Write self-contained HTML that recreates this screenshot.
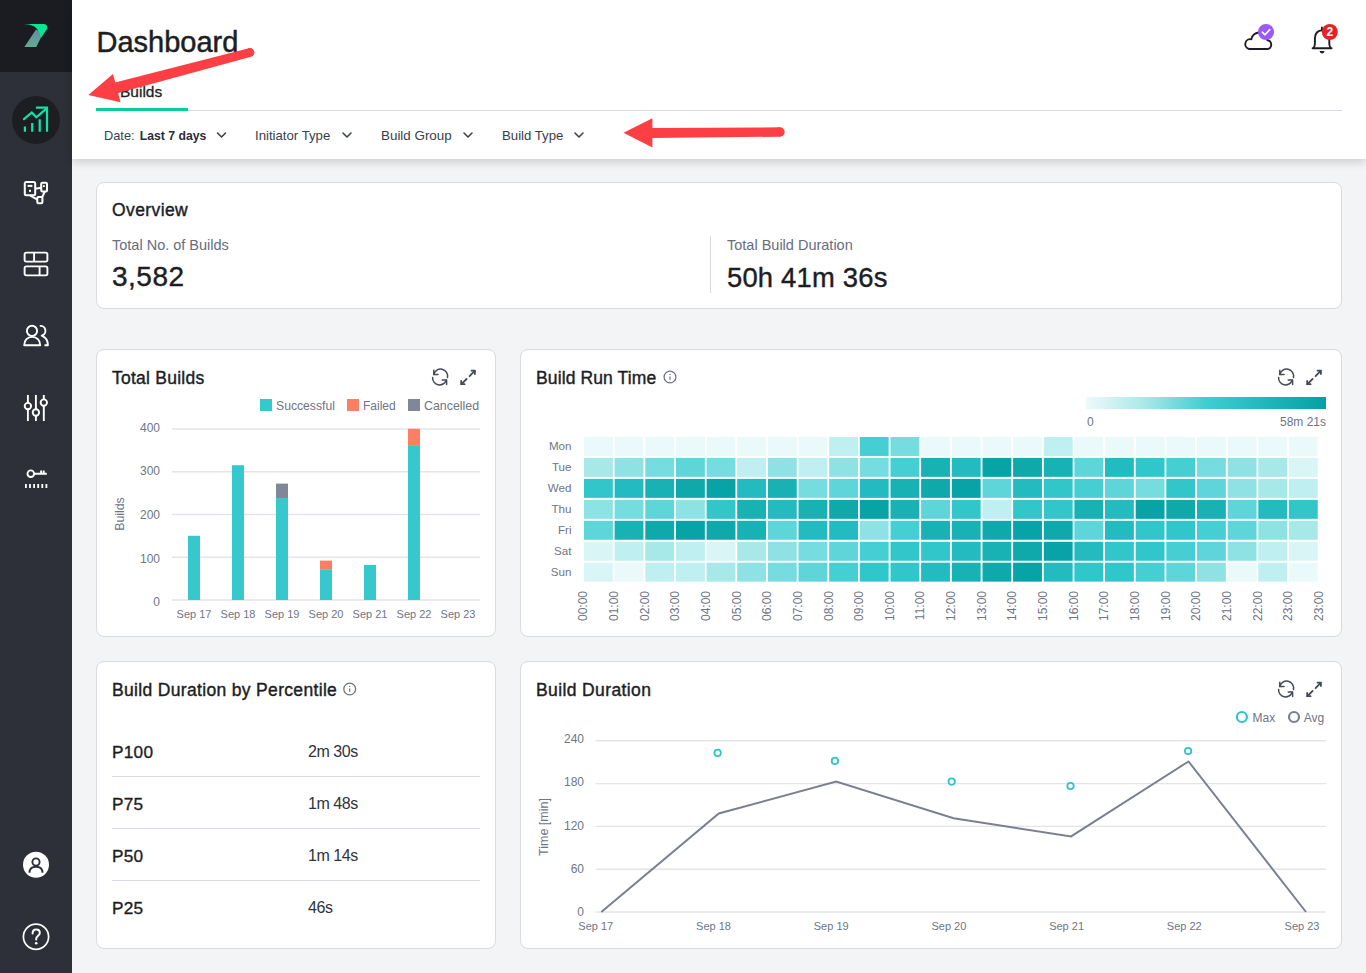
<!DOCTYPE html>
<html><head><meta charset="utf-8">
<style>
*{margin:0;padding:0;box-sizing:border-box}
html,body{width:1366px;height:973px;overflow:hidden;background:#f3f4f6;font-family:"Liberation Sans",sans-serif;color:#1c1e24}
.abs{position:absolute;white-space:nowrap}
#side{position:absolute;left:0;top:0;width:72px;height:973px;background:#2e3039}
#logo{position:absolute;left:0;top:0;width:72px;height:72px;background:#1b1c21}
#hdr{position:absolute;left:72px;top:0;width:1294px;height:159px;background:#fff;box-shadow:0 3px 9px rgba(0,0,0,0.17)}
.card{position:absolute;background:#fff;border:1px solid #d9dbe1;border-radius:8px}
.ttl{font-size:17.5px;color:#1c1e24;-webkit-text-stroke:0.4px #1c1e24}
svg text.ax{font-family:"Liberation Sans",sans-serif;font-size:11px;fill:#6f7585}
</style></head><body>
<div id="side">
 <div id="logo"></div>
</div>
<div id="hdr"></div>
<div class="abs" style="left:96.5px;top:24.5px;font-size:29px;line-height:34px;color:#1c1e24;-webkit-text-stroke:0.5px #1c1e24">Dashboard</div>
<div class="abs" style="left:120px;top:82.5px;font-size:15.5px;line-height:18px;color:#1c1e24;-webkit-text-stroke:0.3px #1c1e24">Builds</div>
<div class="abs" style="left:96px;top:110px;width:1246px;height:1px;background:#d9dbe2"></div>
<div class="abs" style="left:96px;top:108px;width:92px;height:3px;background:#05d09b"></div>
<div class="abs" style="left:104px;top:128px;font-size:12.8px;line-height:16px;color:#3a3e4a">Date: <b style="color:#2a2d36;font-size:12.2px;margin-left:1.7px">Last 7 days</b></div>
<div class="abs" style="left:255px;top:128px;font-size:13.2px;line-height:16px;color:#3a3e4a">Initiator Type</div>
<div class="abs" style="left:381px;top:128px;font-size:13.4px;line-height:16px;color:#3a3e4a">Build Group</div>
<div class="abs" style="left:502px;top:128px;font-size:13.2px;line-height:16px;color:#3a3e4a">Build Type</div>

<div class="card" style="left:96px;top:182px;width:1246px;height:127px"></div>
<div class="abs ttl" style="left:112px;top:200px;line-height:20px;letter-spacing:0.4px">Overview</div>
<div class="abs" style="left:112px;top:236px;font-size:14.5px;line-height:18px;color:#676d7e">Total No. of Builds</div>
<div class="abs" style="left:112px;top:262px;font-size:28px;line-height:30px;letter-spacing:0.5px;color:#1c1e24;-webkit-text-stroke:0.4px #1c1e24">3,582</div>
<div class="abs" style="left:710px;top:236px;width:1px;height:57px;background:#d9dbe2"></div>
<div class="abs" style="left:727px;top:236px;font-size:14.5px;line-height:18px;color:#676d7e">Total Build Duration</div>
<div class="abs" style="left:727px;top:263px;letter-spacing:0.2px;font-size:27.4px;line-height:30px;color:#1c1e24;-webkit-text-stroke:0.4px #1c1e24">50h 41m 36s</div>

<div class="card" style="left:96px;top:349px;width:400px;height:288px"></div>
<div class="abs ttl" style="left:112px;top:367.5px;line-height:20px;letter-spacing:0.25px">Total Builds</div>
<div class="card" style="left:520px;top:349px;width:822px;height:288px"></div>
<div class="abs ttl" style="left:536px;top:367.5px;line-height:20px;letter-spacing:0.12px">Build Run Time</div>
<div class="card" style="left:96px;top:661px;width:400px;height:288px"></div>
<div class="abs ttl" style="left:112px;top:679.5px;line-height:20px;letter-spacing:0.33px">Build Duration by Percentile</div>
<div class="card" style="left:520px;top:661px;width:822px;height:288px"></div>
<div class="abs ttl" style="left:536px;top:679.5px;line-height:20px;letter-spacing:0.38px">Build Duration</div>

<div class="abs" style="left:112px;top:742px;font-size:17.2px;line-height:20px;letter-spacing:0.3px;-webkit-text-stroke:0.35px #1c1e24">P100</div>
<div class="abs" style="left:308px;top:743px;font-size:16px;letter-spacing:-0.45px;line-height:17px;color:#30333c">2m 30s</div>
<div class="abs" style="left:112px;top:776px;width:368px;height:1px;background:#d9dbe2"></div>
<div class="abs" style="left:112px;top:794px;font-size:17.2px;line-height:20px;letter-spacing:0.3px;-webkit-text-stroke:0.35px #1c1e24">P75</div>
<div class="abs" style="left:308px;top:795px;font-size:16px;letter-spacing:-0.45px;line-height:17px;color:#30333c">1m 48s</div>
<div class="abs" style="left:112px;top:828px;width:368px;height:1px;background:#d9dbe2"></div>
<div class="abs" style="left:112px;top:846px;font-size:17.2px;line-height:20px;letter-spacing:0.3px;-webkit-text-stroke:0.35px #1c1e24">P50</div>
<div class="abs" style="left:308px;top:847px;font-size:16px;letter-spacing:-0.45px;line-height:17px;color:#30333c">1m 14s</div>
<div class="abs" style="left:112px;top:880px;width:368px;height:1px;background:#d9dbe2"></div>
<div class="abs" style="left:112px;top:898px;font-size:17.2px;line-height:20px;letter-spacing:0.3px;-webkit-text-stroke:0.35px #1c1e24">P25</div>
<div class="abs" style="left:308px;top:899px;font-size:16px;letter-spacing:-0.45px;line-height:17px;color:#30333c">46s</div>

<svg class="abs" style="left:0;top:0" width="1366" height="973" viewBox="0 0 1366 973">
<!-- logo -->
<path d="M23.7 24 C31 24.5 35 26 37.5 29.5 L40.6 38.5 L47 29 C48 27 46.5 24 44 24 Z" fill="#05e895"/>
<defs><linearGradient id="lgo" x1="0" y1="0" x2="0" y2="1"><stop offset="0" stop-color="#6a8aa6"/><stop offset="1" stop-color="#5fae8e"/></linearGradient></defs><path d="M36 29.6 C39 31 41 34 40.5 38.5 L36.3 47 L24.4 47 Z" fill="url(#lgo)"/>
<!-- active -->
<circle cx="36" cy="120" r="24" fill="#1d1e22"/>
<g fill="none" stroke="#0ae6a6" stroke-width="2.2" stroke-linecap="butt" stroke-linejoin="miter">
<path d="M24.9 131.7 V126.6 M32.2 131.7 V122.9 M39.7 131.7 V119.2 M47 131.7 V107.7 H35.9"/>
<path d="M24 119.2 L31.8 112.5 L36.3 117.3 L47 108.2" stroke-linecap="round"/>
</g>
<!-- sidebar icons -->
<g fill="none" stroke="#fff" stroke-width="2.05" stroke-linejoin="round">
<rect x="24.8" y="181.9" width="10.4" height="13.4" rx="1.5"/>
<rect x="41.2" y="182.8" width="5.8" height="8.7" rx="1.3"/>
<rect x="37.3" y="197" width="5.1" height="6.3" rx="1"/>
<path d="M35.2 188.7 L41.2 187.8 M30.3 195.6 L37.5 199.6 M44.7 191.5 L42.3 197.2"/>
<path d="M27.6 185.9 H32.4"/></g><g fill="#fff"><rect x="29" y="189.8" width="2" height="2"/><rect x="43" y="185.2" width="1.8" height="1.8"/></g><g fill="none" stroke="#fff" stroke-width="1.9" stroke-linejoin="round">
<rect x="24.6" y="252.6" width="22.8" height="9" rx="1.8"/>
<rect x="24.6" y="266.4" width="22.8" height="9" rx="1.8"/>
<path d="M34.1 252.6 V261.6 M39.6 266.4 V275.4"/>
<circle cx="32" cy="330.9" r="5.1"/>
<path d="M24.2 345.3 C24.2 340.2 27.6 336.9 32.2 336.9 C36.8 336.9 40.2 340.2 40.2 345.3 Z"/>
<path d="M39.8 325.9 A4.95 4.95 0 0 1 41.7 335.6 C45.6 337.2 47.9 340.6 47.9 345.3 H44.5"/>
<path d="M27.9 395 V402.9 M27.9 409.3 V421 M35.9 395 V409.3 M35.9 415.7 V421 M43.8 395 V399.4 M43.8 405.8 V421"/>
<circle cx="27.9" cy="406.1" r="3.2"/><circle cx="35.9" cy="412.5" r="3.2"/><circle cx="43.8" cy="402.6" r="3.2"/>
<circle cx="30.8" cy="473.7" r="3.3"/>
<path d="M34.1 473.7 H46.8 M41.1 473.7 V470.4 M43.7 473.7 V470.4"/>
<path d="M25 486 H47.3" stroke-dasharray="1.8 2.3" stroke-width="3.8" stroke-linejoin="miter"/>
<circle cx="36" cy="936.8" r="12.6" stroke-width="1.7"/>
</g>
<circle cx="36" cy="864.8" r="13" fill="#fff"/>
<g fill="none" stroke="#2e3039" stroke-width="1.9"><circle cx="36" cy="862" r="3.6"/><path d="M29.5 872.8 C29.5 868.5 32 866.8 36 866.8 C40 866.8 42.5 868.5 42.5 872.8"/></g>
<path d="M32.6 933.5 C32.6 931 34.2 929.6 36.2 929.6 C38.3 929.6 39.8 931 39.8 933 C39.8 935.6 36.2 936 36.2 938.8 V939.6" fill="none" stroke="#fff" stroke-width="2" stroke-linecap="round"/><circle cx="36.2" cy="943.3" r="1.3" fill="#fff"/>
<!-- header icons -->
<path d="M1249.2 49 H1267.6 A4.4 4.4 0 0 0 1267.4 40.3 A8.1 8.1 0 0 0 1251.3 39.3 A4.9 4.9 0 0 0 1249.2 49 Z" fill="none" stroke="#1c1e24" stroke-width="1.9" stroke-linejoin="round"/>
<circle cx="1266" cy="32" r="8" fill="#9b59f7"/>
<path d="M1262.3 32.2 L1265 34.8 L1269.8 29.6" fill="none" stroke="#fff" stroke-width="1.6" stroke-linecap="round" stroke-linejoin="round"/>
<path d="M1312.6 48.2 H1331.6 M1313.6 47.6 C1314.6 46.6 1314.9 45.5 1314.9 43.5 V38 C1314.9 33.5 1317.8 30.4 1322 30.4 C1326.2 30.4 1329.3 33.5 1329.3 38 V43.5 C1329.3 45.5 1329.6 46.6 1330.6 47.6 M1321.9 27.4 V30.4" fill="none" stroke="#1c1e24" stroke-width="1.9" stroke-linejoin="round" stroke-linecap="round"/>
<path d="M1319.6 50.9 H1324.6 C1324.3 52.5 1323.3 53.4 1322.1 53.4 C1320.9 53.4 1319.9 52.5 1319.6 50.9 Z" fill="#1c1e24"/>
<circle cx="1329.8" cy="32" r="8" fill="#e52127"/>
<text x="1329.8" y="36.4" text-anchor="middle" font-family="Liberation Sans" font-size="12" font-weight="bold" fill="#fff">2</text>
<!-- filter chevrons -->
<path d="M217.5 133 L221.5 137 L225.5 133" fill="none" stroke="#3c4150" stroke-width="1.6" stroke-linecap="round" stroke-linejoin="round"/><path d="M343 133 L347 137 L351 133" fill="none" stroke="#3c4150" stroke-width="1.6" stroke-linecap="round" stroke-linejoin="round"/><path d="M464 133 L468 137 L472 133" fill="none" stroke="#3c4150" stroke-width="1.6" stroke-linecap="round" stroke-linejoin="round"/><path d="M575 133 L579 137 L583 133" fill="none" stroke="#3c4150" stroke-width="1.6" stroke-linecap="round" stroke-linejoin="round"/>
<!-- card icons -->
<g transform="translate(432,369)" fill="none" stroke="#454a58" stroke-width="1.5" stroke-linecap="round" stroke-linejoin="round">
<path d="M1.8 5.6 A7 7 0 0 1 15.5 8.6"/><path d="M1.8 1.2 V5.6 H6"/>
<path d="M0.6 8.4 A7 7 0 0 0 14.2 11.2"/><path d="M10.2 11 H14.6 V15.6"/></g><g transform="translate(460,369)" fill="none" stroke="#454a58" stroke-width="1.8" stroke-linecap="round" stroke-linejoin="round">
<path d="M11.5 1.6 H14.9 V5"/><path d="M14.6 1.9 L9.6 7.2"/><path d="M6.6 10 L1.4 15.2"/><path d="M1.2 11.8 V15.2 H4.6"/></g>
<g transform="translate(1278,369)" fill="none" stroke="#454a58" stroke-width="1.5" stroke-linecap="round" stroke-linejoin="round">
<path d="M1.8 5.6 A7 7 0 0 1 15.5 8.6"/><path d="M1.8 1.2 V5.6 H6"/>
<path d="M0.6 8.4 A7 7 0 0 0 14.2 11.2"/><path d="M10.2 11 H14.6 V15.6"/></g><g transform="translate(1306,369)" fill="none" stroke="#454a58" stroke-width="1.8" stroke-linecap="round" stroke-linejoin="round">
<path d="M11.5 1.6 H14.9 V5"/><path d="M14.6 1.9 L9.6 7.2"/><path d="M6.6 10 L1.4 15.2"/><path d="M1.2 11.8 V15.2 H4.6"/></g>
<g transform="translate(1278,681)" fill="none" stroke="#454a58" stroke-width="1.5" stroke-linecap="round" stroke-linejoin="round">
<path d="M1.8 5.6 A7 7 0 0 1 15.5 8.6"/><path d="M1.8 1.2 V5.6 H6"/>
<path d="M0.6 8.4 A7 7 0 0 0 14.2 11.2"/><path d="M10.2 11 H14.6 V15.6"/></g><g transform="translate(1306,681)" fill="none" stroke="#454a58" stroke-width="1.8" stroke-linecap="round" stroke-linejoin="round">
<path d="M11.5 1.6 H14.9 V5"/><path d="M14.6 1.9 L9.6 7.2"/><path d="M6.6 10 L1.4 15.2"/><path d="M1.2 11.8 V15.2 H4.6"/></g>
<g fill="none" stroke="#6b7182" stroke-width="1.25"><circle cx="670" cy="377" r="5.9"/></g><line x1="670" y1="376.5" x2="670" y2="379.8" stroke="#6b7080" stroke-width="1.2"/><circle cx="670" cy="374.4" r="0.7" fill="#6b7080"/><g fill="none" stroke="#6b7182" stroke-width="1.25"><circle cx="349.7" cy="689" r="5.9"/></g><line x1="349.7" y1="688.5" x2="349.7" y2="691.8" stroke="#6b7080" stroke-width="1.2"/><circle cx="349.7" cy="686.4" r="0.7" fill="#6b7080"/>
<!-- legends -->
<rect x="260" y="399" width="12" height="12" fill="#35c9cd"/><text x="276" y="409.5" class="ax" style="font-size:12.2px">Successful</text>
<rect x="347" y="399" width="12" height="12" fill="#fd7f63"/><text x="363" y="409.5" class="ax" style="font-size:12px">Failed</text>
<rect x="408" y="399" width="12" height="12" fill="#818797"/><text x="424" y="409.5" class="ax" style="font-size:12.4px">Cancelled</text>
<line x1="172" y1="600.1" x2="480" y2="600.1" stroke="#e3e4e9" stroke-width="1.5"/>
<text x="160" y="606.0" text-anchor="end" class="ax" style="font-size:12px">0</text>
<line x1="172" y1="557.3" x2="480" y2="557.3" stroke="#e3e4e9" stroke-width="1.5"/>
<text x="160" y="562.5" text-anchor="end" class="ax" style="font-size:12px">100</text>
<line x1="172" y1="514.5" x2="480" y2="514.5" stroke="#e3e4e9" stroke-width="1.5"/>
<text x="160" y="518.9" text-anchor="end" class="ax" style="font-size:12px">200</text>
<line x1="172" y1="471.7" x2="480" y2="471.7" stroke="#e3e4e9" stroke-width="1.5"/>
<text x="160" y="475.4" text-anchor="end" class="ax" style="font-size:12px">300</text>
<line x1="172" y1="428.9" x2="480" y2="428.9" stroke="#e3e4e9" stroke-width="1.5"/>
<text x="160" y="431.9" text-anchor="end" class="ax" style="font-size:12px">400</text>
<rect x="188" y="535.8" width="12" height="64.2" fill="#35c9cd"/>
<text x="194" y="617.5" text-anchor="middle" class="ax">Sep 17</text>
<rect x="232" y="465.2" width="12" height="134.8" fill="#35c9cd"/>
<text x="238" y="617.5" text-anchor="middle" class="ax">Sep 18</text>
<rect x="276" y="498.1" width="12" height="101.9" fill="#35c9cd"/>
<rect x="276" y="483.6" width="12" height="14.6" fill="#818797"/>
<text x="282" y="617.5" text-anchor="middle" class="ax">Sep 19</text>
<rect x="320" y="569.2" width="12" height="30.8" fill="#35c9cd"/>
<rect x="320" y="560.6" width="12" height="8.6" fill="#fd7f63"/>
<text x="326" y="617.5" text-anchor="middle" class="ax">Sep 20</text>
<rect x="364" y="564.9" width="12" height="35.1" fill="#35c9cd"/>
<text x="370" y="617.5" text-anchor="middle" class="ax">Sep 21</text>
<rect x="408" y="445.9" width="12" height="154.1" fill="#35c9cd"/>
<rect x="408" y="428.8" width="12" height="17.1" fill="#fd7f63"/>
<text x="414" y="617.5" text-anchor="middle" class="ax">Sep 22</text>
<text x="458" y="617.5" text-anchor="middle" class="ax">Sep 23</text>
<text transform="translate(123.5,514) rotate(-90)" text-anchor="middle" class="ax" style="font-size:12.3px">Builds</text>
<defs><linearGradient id="lg" x1="0" x2="1"><stop offset="0" stop-color="#edfafa"/><stop offset="0.25" stop-color="#a8e7e8"/><stop offset="0.5" stop-color="#40cdd1"/><stop offset="0.75" stop-color="#20b7bb"/><stop offset="1" stop-color="#06a0a2"/></linearGradient></defs>
<rect x="1086" y="397" width="240" height="12" fill="url(#lg)"/>
<text x="1087" y="425.5" class="ax" style="font-size:12px">0</text>
<text x="1326" y="425.5" text-anchor="end" class="ax" style="font-size:12px">58m 21s</text>
<rect x="584.0" y="437.0" width="28.85" height="18.95" fill="#eafafa"/>
<rect x="614.6" y="437.0" width="28.85" height="18.95" fill="#eafafa"/>
<rect x="645.3" y="437.0" width="28.85" height="18.95" fill="#eafafa"/>
<rect x="676.0" y="437.0" width="28.85" height="18.95" fill="#eafafa"/>
<rect x="706.6" y="437.0" width="28.85" height="18.95" fill="#eafafa"/>
<rect x="737.2" y="437.0" width="28.85" height="18.95" fill="#eafafa"/>
<rect x="767.9" y="437.0" width="28.85" height="18.95" fill="#eafafa"/>
<rect x="798.5" y="437.0" width="28.85" height="18.95" fill="#eafafa"/>
<rect x="829.2" y="437.0" width="28.85" height="18.95" fill="#bfeff0"/>
<rect x="859.8" y="437.0" width="28.85" height="18.95" fill="#46cfd3"/>
<rect x="890.5" y="437.0" width="28.85" height="18.95" fill="#75dcdf"/>
<rect x="921.1" y="437.0" width="28.85" height="18.95" fill="#eafafa"/>
<rect x="951.8" y="437.0" width="28.85" height="18.95" fill="#eafafa"/>
<rect x="982.5" y="437.0" width="28.85" height="18.95" fill="#eafafa"/>
<rect x="1013.1" y="437.0" width="28.85" height="18.95" fill="#eafafa"/>
<rect x="1043.8" y="437.0" width="28.85" height="18.95" fill="#bfeff0"/>
<rect x="1074.4" y="437.0" width="28.85" height="18.95" fill="#eafafa"/>
<rect x="1105.0" y="437.0" width="28.85" height="18.95" fill="#eafafa"/>
<rect x="1135.7" y="437.0" width="28.85" height="18.95" fill="#eafafa"/>
<rect x="1166.3" y="437.0" width="28.85" height="18.95" fill="#eafafa"/>
<rect x="1197.0" y="437.0" width="28.85" height="18.95" fill="#eafafa"/>
<rect x="1227.7" y="437.0" width="28.85" height="18.95" fill="#eafafa"/>
<rect x="1258.3" y="437.0" width="28.85" height="18.95" fill="#eafafa"/>
<rect x="1288.9" y="437.0" width="28.85" height="18.95" fill="#eafafa"/>
<rect x="584.0" y="457.9" width="28.85" height="18.95" fill="#a7e8e9"/>
<rect x="614.6" y="457.9" width="28.85" height="18.95" fill="#8ee2e4"/>
<rect x="645.3" y="457.9" width="28.85" height="18.95" fill="#75dcdf"/>
<rect x="676.0" y="457.9" width="28.85" height="18.95" fill="#5dd5d9"/>
<rect x="706.6" y="457.9" width="28.85" height="18.95" fill="#75dcdf"/>
<rect x="737.2" y="457.9" width="28.85" height="18.95" fill="#bfeff0"/>
<rect x="767.9" y="457.9" width="28.85" height="18.95" fill="#8ee2e4"/>
<rect x="798.5" y="457.9" width="28.85" height="18.95" fill="#bfeff0"/>
<rect x="829.2" y="457.9" width="28.85" height="18.95" fill="#8ee2e4"/>
<rect x="859.8" y="457.9" width="28.85" height="18.95" fill="#75dcdf"/>
<rect x="890.5" y="457.9" width="28.85" height="18.95" fill="#46cfd3"/>
<rect x="921.1" y="457.9" width="28.85" height="18.95" fill="#18b1b4"/>
<rect x="951.8" y="457.9" width="28.85" height="18.95" fill="#23bbbf"/>
<rect x="982.5" y="457.9" width="28.85" height="18.95" fill="#07a3a6"/>
<rect x="1013.1" y="457.9" width="28.85" height="18.95" fill="#0fa9ac"/>
<rect x="1043.8" y="457.9" width="28.85" height="18.95" fill="#18b1b4"/>
<rect x="1074.4" y="457.9" width="28.85" height="18.95" fill="#5dd5d9"/>
<rect x="1105.0" y="457.9" width="28.85" height="18.95" fill="#23bbbf"/>
<rect x="1135.7" y="457.9" width="28.85" height="18.95" fill="#30c6ca"/>
<rect x="1166.3" y="457.9" width="28.85" height="18.95" fill="#46cfd3"/>
<rect x="1197.0" y="457.9" width="28.85" height="18.95" fill="#75dcdf"/>
<rect x="1227.7" y="457.9" width="28.85" height="18.95" fill="#8ee2e4"/>
<rect x="1258.3" y="457.9" width="28.85" height="18.95" fill="#a7e8e9"/>
<rect x="1288.9" y="457.9" width="28.85" height="18.95" fill="#daf5f6"/>
<rect x="584.0" y="478.9" width="28.85" height="18.95" fill="#30c6ca"/>
<rect x="614.6" y="478.9" width="28.85" height="18.95" fill="#23bbbf"/>
<rect x="645.3" y="478.9" width="28.85" height="18.95" fill="#18b1b4"/>
<rect x="676.0" y="478.9" width="28.85" height="18.95" fill="#0fa9ac"/>
<rect x="706.6" y="478.9" width="28.85" height="18.95" fill="#07a3a6"/>
<rect x="737.2" y="478.9" width="28.85" height="18.95" fill="#23bbbf"/>
<rect x="767.9" y="478.9" width="28.85" height="18.95" fill="#18b1b4"/>
<rect x="798.5" y="478.9" width="28.85" height="18.95" fill="#75dcdf"/>
<rect x="829.2" y="478.9" width="28.85" height="18.95" fill="#5dd5d9"/>
<rect x="859.8" y="478.9" width="28.85" height="18.95" fill="#23bbbf"/>
<rect x="890.5" y="478.9" width="28.85" height="18.95" fill="#18b1b4"/>
<rect x="921.1" y="478.9" width="28.85" height="18.95" fill="#0fa9ac"/>
<rect x="951.8" y="478.9" width="28.85" height="18.95" fill="#07a3a6"/>
<rect x="982.5" y="478.9" width="28.85" height="18.95" fill="#5dd5d9"/>
<rect x="1013.1" y="478.9" width="28.85" height="18.95" fill="#23bbbf"/>
<rect x="1043.8" y="478.9" width="28.85" height="18.95" fill="#30c6ca"/>
<rect x="1074.4" y="478.9" width="28.85" height="18.95" fill="#46cfd3"/>
<rect x="1105.0" y="478.9" width="28.85" height="18.95" fill="#5dd5d9"/>
<rect x="1135.7" y="478.9" width="28.85" height="18.95" fill="#75dcdf"/>
<rect x="1166.3" y="478.9" width="28.85" height="18.95" fill="#30c6ca"/>
<rect x="1197.0" y="478.9" width="28.85" height="18.95" fill="#5dd5d9"/>
<rect x="1227.7" y="478.9" width="28.85" height="18.95" fill="#8ee2e4"/>
<rect x="1258.3" y="478.9" width="28.85" height="18.95" fill="#a7e8e9"/>
<rect x="1288.9" y="478.9" width="28.85" height="18.95" fill="#bfeff0"/>
<rect x="584.0" y="499.9" width="28.85" height="18.95" fill="#8ee2e4"/>
<rect x="614.6" y="499.9" width="28.85" height="18.95" fill="#75dcdf"/>
<rect x="645.3" y="499.9" width="28.85" height="18.95" fill="#5dd5d9"/>
<rect x="676.0" y="499.9" width="28.85" height="18.95" fill="#8ee2e4"/>
<rect x="706.6" y="499.9" width="28.85" height="18.95" fill="#30c6ca"/>
<rect x="737.2" y="499.9" width="28.85" height="18.95" fill="#18b1b4"/>
<rect x="767.9" y="499.9" width="28.85" height="18.95" fill="#23bbbf"/>
<rect x="798.5" y="499.9" width="28.85" height="18.95" fill="#18b1b4"/>
<rect x="829.2" y="499.9" width="28.85" height="18.95" fill="#0fa9ac"/>
<rect x="859.8" y="499.9" width="28.85" height="18.95" fill="#07a3a6"/>
<rect x="890.5" y="499.9" width="28.85" height="18.95" fill="#18b1b4"/>
<rect x="921.1" y="499.9" width="28.85" height="18.95" fill="#5dd5d9"/>
<rect x="951.8" y="499.9" width="28.85" height="18.95" fill="#30c6ca"/>
<rect x="982.5" y="499.9" width="28.85" height="18.95" fill="#bfeff0"/>
<rect x="1013.1" y="499.9" width="28.85" height="18.95" fill="#30c6ca"/>
<rect x="1043.8" y="499.9" width="28.85" height="18.95" fill="#30c6ca"/>
<rect x="1074.4" y="499.9" width="28.85" height="18.95" fill="#18b1b4"/>
<rect x="1105.0" y="499.9" width="28.85" height="18.95" fill="#23bbbf"/>
<rect x="1135.7" y="499.9" width="28.85" height="18.95" fill="#07a3a6"/>
<rect x="1166.3" y="499.9" width="28.85" height="18.95" fill="#0fa9ac"/>
<rect x="1197.0" y="499.9" width="28.85" height="18.95" fill="#18b1b4"/>
<rect x="1227.7" y="499.9" width="28.85" height="18.95" fill="#5dd5d9"/>
<rect x="1258.3" y="499.9" width="28.85" height="18.95" fill="#23bbbf"/>
<rect x="1288.9" y="499.9" width="28.85" height="18.95" fill="#30c6ca"/>
<rect x="584.0" y="520.8" width="28.85" height="18.95" fill="#5dd5d9"/>
<rect x="614.6" y="520.8" width="28.85" height="18.95" fill="#18b1b4"/>
<rect x="645.3" y="520.8" width="28.85" height="18.95" fill="#0fa9ac"/>
<rect x="676.0" y="520.8" width="28.85" height="18.95" fill="#07a3a6"/>
<rect x="706.6" y="520.8" width="28.85" height="18.95" fill="#0fa9ac"/>
<rect x="737.2" y="520.8" width="28.85" height="18.95" fill="#18b1b4"/>
<rect x="767.9" y="520.8" width="28.85" height="18.95" fill="#5dd5d9"/>
<rect x="798.5" y="520.8" width="28.85" height="18.95" fill="#23bbbf"/>
<rect x="829.2" y="520.8" width="28.85" height="18.95" fill="#23bbbf"/>
<rect x="859.8" y="520.8" width="28.85" height="18.95" fill="#8ee2e4"/>
<rect x="890.5" y="520.8" width="28.85" height="18.95" fill="#46cfd3"/>
<rect x="921.1" y="520.8" width="28.85" height="18.95" fill="#18b1b4"/>
<rect x="951.8" y="520.8" width="28.85" height="18.95" fill="#18b1b4"/>
<rect x="982.5" y="520.8" width="28.85" height="18.95" fill="#0fa9ac"/>
<rect x="1013.1" y="520.8" width="28.85" height="18.95" fill="#07a3a6"/>
<rect x="1043.8" y="520.8" width="28.85" height="18.95" fill="#0fa9ac"/>
<rect x="1074.4" y="520.8" width="28.85" height="18.95" fill="#5dd5d9"/>
<rect x="1105.0" y="520.8" width="28.85" height="18.95" fill="#23bbbf"/>
<rect x="1135.7" y="520.8" width="28.85" height="18.95" fill="#30c6ca"/>
<rect x="1166.3" y="520.8" width="28.85" height="18.95" fill="#30c6ca"/>
<rect x="1197.0" y="520.8" width="28.85" height="18.95" fill="#46cfd3"/>
<rect x="1227.7" y="520.8" width="28.85" height="18.95" fill="#5dd5d9"/>
<rect x="1258.3" y="520.8" width="28.85" height="18.95" fill="#8ee2e4"/>
<rect x="1288.9" y="520.8" width="28.85" height="18.95" fill="#a7e8e9"/>
<rect x="584.0" y="541.8" width="28.85" height="18.95" fill="#daf5f6"/>
<rect x="614.6" y="541.8" width="28.85" height="18.95" fill="#bfeff0"/>
<rect x="645.3" y="541.8" width="28.85" height="18.95" fill="#a7e8e9"/>
<rect x="676.0" y="541.8" width="28.85" height="18.95" fill="#bfeff0"/>
<rect x="706.6" y="541.8" width="28.85" height="18.95" fill="#daf5f6"/>
<rect x="737.2" y="541.8" width="28.85" height="18.95" fill="#a7e8e9"/>
<rect x="767.9" y="541.8" width="28.85" height="18.95" fill="#8ee2e4"/>
<rect x="798.5" y="541.8" width="28.85" height="18.95" fill="#75dcdf"/>
<rect x="829.2" y="541.8" width="28.85" height="18.95" fill="#5dd5d9"/>
<rect x="859.8" y="541.8" width="28.85" height="18.95" fill="#46cfd3"/>
<rect x="890.5" y="541.8" width="28.85" height="18.95" fill="#30c6ca"/>
<rect x="921.1" y="541.8" width="28.85" height="18.95" fill="#30c6ca"/>
<rect x="951.8" y="541.8" width="28.85" height="18.95" fill="#23bbbf"/>
<rect x="982.5" y="541.8" width="28.85" height="18.95" fill="#18b1b4"/>
<rect x="1013.1" y="541.8" width="28.85" height="18.95" fill="#0fa9ac"/>
<rect x="1043.8" y="541.8" width="28.85" height="18.95" fill="#07a3a6"/>
<rect x="1074.4" y="541.8" width="28.85" height="18.95" fill="#23bbbf"/>
<rect x="1105.0" y="541.8" width="28.85" height="18.95" fill="#30c6ca"/>
<rect x="1135.7" y="541.8" width="28.85" height="18.95" fill="#30c6ca"/>
<rect x="1166.3" y="541.8" width="28.85" height="18.95" fill="#46cfd3"/>
<rect x="1197.0" y="541.8" width="28.85" height="18.95" fill="#5dd5d9"/>
<rect x="1227.7" y="541.8" width="28.85" height="18.95" fill="#8ee2e4"/>
<rect x="1258.3" y="541.8" width="28.85" height="18.95" fill="#bfeff0"/>
<rect x="1288.9" y="541.8" width="28.85" height="18.95" fill="#daf5f6"/>
<rect x="584.0" y="562.7" width="28.85" height="18.95" fill="#daf5f6"/>
<rect x="614.6" y="562.7" width="28.85" height="18.95" fill="#eafafa"/>
<rect x="645.3" y="562.7" width="28.85" height="18.95" fill="#bfeff0"/>
<rect x="676.0" y="562.7" width="28.85" height="18.95" fill="#bfeff0"/>
<rect x="706.6" y="562.7" width="28.85" height="18.95" fill="#a7e8e9"/>
<rect x="737.2" y="562.7" width="28.85" height="18.95" fill="#8ee2e4"/>
<rect x="767.9" y="562.7" width="28.85" height="18.95" fill="#75dcdf"/>
<rect x="798.5" y="562.7" width="28.85" height="18.95" fill="#5dd5d9"/>
<rect x="829.2" y="562.7" width="28.85" height="18.95" fill="#46cfd3"/>
<rect x="859.8" y="562.7" width="28.85" height="18.95" fill="#30c6ca"/>
<rect x="890.5" y="562.7" width="28.85" height="18.95" fill="#30c6ca"/>
<rect x="921.1" y="562.7" width="28.85" height="18.95" fill="#23bbbf"/>
<rect x="951.8" y="562.7" width="28.85" height="18.95" fill="#18b1b4"/>
<rect x="982.5" y="562.7" width="28.85" height="18.95" fill="#0fa9ac"/>
<rect x="1013.1" y="562.7" width="28.85" height="18.95" fill="#07a3a6"/>
<rect x="1043.8" y="562.7" width="28.85" height="18.95" fill="#23bbbf"/>
<rect x="1074.4" y="562.7" width="28.85" height="18.95" fill="#30c6ca"/>
<rect x="1105.0" y="562.7" width="28.85" height="18.95" fill="#30c6ca"/>
<rect x="1135.7" y="562.7" width="28.85" height="18.95" fill="#46cfd3"/>
<rect x="1166.3" y="562.7" width="28.85" height="18.95" fill="#5dd5d9"/>
<rect x="1197.0" y="562.7" width="28.85" height="18.95" fill="#8ee2e4"/>
<rect x="1227.7" y="562.7" width="28.85" height="18.95" fill="#eafafa"/>
<rect x="1258.3" y="562.7" width="28.85" height="18.95" fill="#bfeff0"/>
<rect x="1288.9" y="562.7" width="28.85" height="18.95" fill="#eafafa"/>
<text x="571.5" y="450.0" text-anchor="end" class="ax" style="font-size:11.6px">Mon</text>
<text x="571.5" y="470.9" text-anchor="end" class="ax" style="font-size:11.6px">Tue</text>
<text x="571.5" y="491.9" text-anchor="end" class="ax" style="font-size:11.6px">Wed</text>
<text x="571.5" y="512.8" text-anchor="end" class="ax" style="font-size:11.6px">Thu</text>
<text x="571.5" y="533.8" text-anchor="end" class="ax" style="font-size:11.6px">Fri</text>
<text x="571.5" y="554.7" text-anchor="end" class="ax" style="font-size:11.6px">Sat</text>
<text x="571.5" y="575.7" text-anchor="end" class="ax" style="font-size:11.6px">Sun</text>
<text transform="translate(587.3,591) rotate(-90)" text-anchor="end" class="ax" style="font-size:12px">00:00</text>
<text transform="translate(617.9,591) rotate(-90)" text-anchor="end" class="ax" style="font-size:12px">01:00</text>
<text transform="translate(648.6,591) rotate(-90)" text-anchor="end" class="ax" style="font-size:12px">02:00</text>
<text transform="translate(679.2,591) rotate(-90)" text-anchor="end" class="ax" style="font-size:12px">03:00</text>
<text transform="translate(709.9,591) rotate(-90)" text-anchor="end" class="ax" style="font-size:12px">04:00</text>
<text transform="translate(740.5,591) rotate(-90)" text-anchor="end" class="ax" style="font-size:12px">05:00</text>
<text transform="translate(771.2,591) rotate(-90)" text-anchor="end" class="ax" style="font-size:12px">06:00</text>
<text transform="translate(801.8,591) rotate(-90)" text-anchor="end" class="ax" style="font-size:12px">07:00</text>
<text transform="translate(832.5,591) rotate(-90)" text-anchor="end" class="ax" style="font-size:12px">08:00</text>
<text transform="translate(863.1,591) rotate(-90)" text-anchor="end" class="ax" style="font-size:12px">09:00</text>
<text transform="translate(893.8,591) rotate(-90)" text-anchor="end" class="ax" style="font-size:12px">10:00</text>
<text transform="translate(924.4,591) rotate(-90)" text-anchor="end" class="ax" style="font-size:12px">11:00</text>
<text transform="translate(955.1,591) rotate(-90)" text-anchor="end" class="ax" style="font-size:12px">12:00</text>
<text transform="translate(985.8,591) rotate(-90)" text-anchor="end" class="ax" style="font-size:12px">13:00</text>
<text transform="translate(1016.4,591) rotate(-90)" text-anchor="end" class="ax" style="font-size:12px">14:00</text>
<text transform="translate(1047.0,591) rotate(-90)" text-anchor="end" class="ax" style="font-size:12px">15:00</text>
<text transform="translate(1077.7,591) rotate(-90)" text-anchor="end" class="ax" style="font-size:12px">16:00</text>
<text transform="translate(1108.3,591) rotate(-90)" text-anchor="end" class="ax" style="font-size:12px">17:00</text>
<text transform="translate(1139.0,591) rotate(-90)" text-anchor="end" class="ax" style="font-size:12px">18:00</text>
<text transform="translate(1169.6,591) rotate(-90)" text-anchor="end" class="ax" style="font-size:12px">19:00</text>
<text transform="translate(1200.3,591) rotate(-90)" text-anchor="end" class="ax" style="font-size:12px">20:00</text>
<text transform="translate(1231.0,591) rotate(-90)" text-anchor="end" class="ax" style="font-size:12px">21:00</text>
<text transform="translate(1261.6,591) rotate(-90)" text-anchor="end" class="ax" style="font-size:12px">22:00</text>
<text transform="translate(1292.2,591) rotate(-90)" text-anchor="end" class="ax" style="font-size:12px">23:00</text>
<text transform="translate(1322.9,591) rotate(-90)" text-anchor="end" class="ax" style="font-size:12px">23:00</text>
<circle cx="1241.9" cy="717" r="5" fill="none" stroke="#2ec5c9" stroke-width="2.2"/><text x="1252.5" y="721.5" class="ax" style="font-size:12px">Max</text>
<circle cx="1294" cy="717" r="5" fill="none" stroke="#7b8091" stroke-width="2.2"/><text x="1303.8" y="721.5" class="ax" style="font-size:12px">Avg</text>
<line x1="595.5" y1="912.0" x2="1326" y2="912.0" stroke="#e3e4e9" stroke-width="1.4"/>
<text x="584" y="916.4" text-anchor="end" class="ax" style="font-size:12px">0</text>
<line x1="595.5" y1="869.2" x2="1326" y2="869.2" stroke="#e3e4e9" stroke-width="1.4"/>
<text x="584" y="873.0" text-anchor="end" class="ax" style="font-size:12px">60</text>
<line x1="595.5" y1="826.4" x2="1326" y2="826.4" stroke="#e3e4e9" stroke-width="1.4"/>
<text x="584" y="829.6" text-anchor="end" class="ax" style="font-size:12px">120</text>
<line x1="595.5" y1="783.6" x2="1326" y2="783.6" stroke="#e3e4e9" stroke-width="1.4"/>
<text x="584" y="786.2" text-anchor="end" class="ax" style="font-size:12px">180</text>
<line x1="595.5" y1="740.8" x2="1326" y2="740.8" stroke="#e3e4e9" stroke-width="1.4"/>
<text x="584" y="742.8" text-anchor="end" class="ax" style="font-size:12px">240</text>
<polyline points="601.3,912.0 718.8,813.5 836.2,781.6 953.6,818.3 1071.1,836.4 1188.5,761.5 1306.0,912.0" fill="none" stroke="#7b8091" stroke-width="2"/>
<circle cx="717.6" cy="752.9" r="3.2" fill="#fff" stroke="#2ec5c9" stroke-width="1.8"/>
<circle cx="834.9" cy="760.9" r="3.2" fill="#fff" stroke="#2ec5c9" stroke-width="1.8"/>
<circle cx="951.7" cy="781.6" r="3.2" fill="#fff" stroke="#2ec5c9" stroke-width="1.8"/>
<circle cx="1070.5" cy="786" r="3.2" fill="#fff" stroke="#2ec5c9" stroke-width="1.8"/>
<circle cx="1188.1" cy="751" r="3.2" fill="#fff" stroke="#2ec5c9" stroke-width="1.8"/>
<text x="595.8" y="930" text-anchor="middle" class="ax">Sep 17</text>
<text x="713.5" y="930" text-anchor="middle" class="ax">Sep 18</text>
<text x="831.2" y="930" text-anchor="middle" class="ax">Sep 19</text>
<text x="948.9" y="930" text-anchor="middle" class="ax">Sep 20</text>
<text x="1066.6" y="930" text-anchor="middle" class="ax">Sep 21</text>
<text x="1184.3" y="930" text-anchor="middle" class="ax">Sep 22</text>
<text x="1302.0" y="930" text-anchor="middle" class="ax">Sep 23</text>
<text transform="translate(547.5,827) rotate(-90)" text-anchor="middle" class="ax" style="font-size:12.5px">Time [min]</text>
<!-- red arrows -->
<g fill="#fc3f45">
<circle cx="250" cy="52.5" r="4.4"/>
<path d="M251.1 56.8 L110 95.2 L107.2 84.5 L248.9 48.2 Z"/>
<path d="M88.3 95 L113 74 L120.6 102.3 Z"/>
<circle cx="780" cy="132" r="4.7"/>
<path d="M780 127.3 L652 128 L652 138 L780 136.7 Z"/>
<path d="M623.5 132.8 L652.4 118.2 L652.4 147.4 Z"/>
</g>
</svg>
</body></html>
